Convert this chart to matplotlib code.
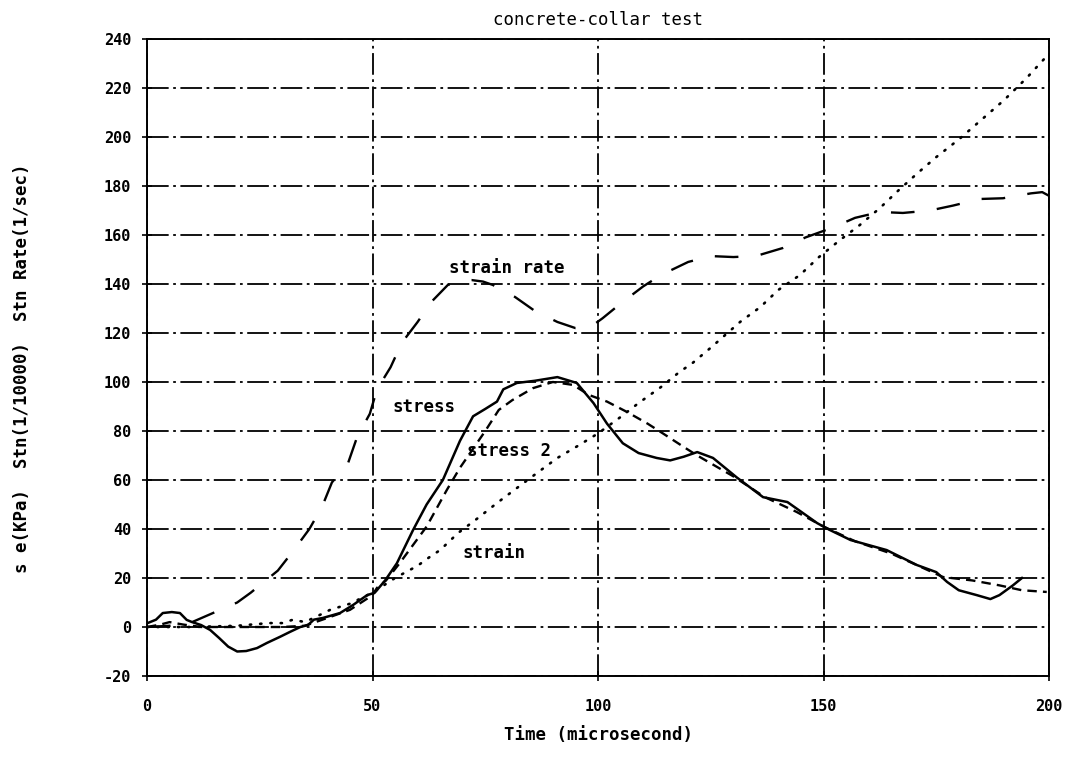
import matplotlib
matplotlib.use("Agg")
import matplotlib.pyplot as plt

# ---------------- data ----------------
stress_x = [0, 2, 3.5, 5.5, 7.3, 8.8, 10, 12, 14, 16, 18, 20, 22, 24.4, 26.6, 29.5, 31.7, 34, 35.7, 37, 39,
            42.8, 45.7, 48.8, 50.5, 52.8, 55.4, 59, 62, 65.6, 69.4, 72.3, 75, 77.6, 79, 82, 86, 91, 95.3, 99,
            102, 105.5, 109, 113, 116, 119, 122, 125.5, 130.8, 136.6, 142, 148.6, 151.4, 156, 164, 170.7, 175,
            177.4, 180, 184, 187, 189, 192, 194]
stress_y = [1.5, 3, 5.7, 6.1, 5.7, 2.9, 2, 0.8, -1.2, -4.5, -8, -10, -9.8, -8.6, -6.5, -4, -2, 0, 0.8, 3, 3.7,
            5.7, 9, 13, 14, 19, 26, 39.6, 50, 60, 76, 86, 89, 92, 97, 99.6, 100.5, 102, 99.6, 91.4,
            83, 75, 71, 69, 68, 69.5, 71.4, 69, 61, 53, 51, 42.4, 39.6, 35.5, 31.4, 25.3, 22.4,
            18.4, 15, 13, 11.4, 13, 17, 20]

stress2_x = [0, 3, 5, 8, 12, 20, 30, 35, 40, 45, 50, 51, 53, 56, 62, 66.5, 69.4, 75, 78, 81, 85.6, 90, 94.5,
             98, 102, 106.4, 111, 114.4, 119, 122, 130, 137, 144, 150, 157, 165, 171, 176.5, 183, 189, 194, 199.5]
stress2_y = [0, 1, 2, 1, 0, 0, 0, 0.5, 3.7, 7, 13, 16, 19, 26, 41, 56, 65, 80, 88.6, 92.6, 97.5, 100, 98.8,
             94.7, 92, 87.8, 83, 79, 73.5, 70, 61.5, 53, 47, 41, 35, 30, 25, 20.4, 19, 17, 15, 14.3]

strain_x = [0, 10, 20, 27, 30, 32.4, 35, 38.4, 40.6, 45, 50, 55, 60, 62.7, 65, 69, 73.4, 77.6, 82, 86.5, 91,
            95.6, 100, 105, 109, 114, 118, 121, 125, 131.5, 136, 140, 144.8, 149, 153.7, 158, 162.5, 166.5,
            170.7, 175, 180, 185, 190, 195, 200]
strain_y = [0, 0, 0.5, 1.6, 1.6, 3, 2, 5, 7, 9.5, 14, 20, 25, 28.6, 31.4, 38.4, 44.5, 50.6, 56.7, 62.9, 69,
            74, 79, 85.7, 91.4, 98, 104, 107.8, 114, 124.5, 130.6, 137.6, 143.7, 151, 158, 164, 171, 178,
            185, 191.8, 199, 207, 215, 224, 234]

rate_x = [0, 5, 10, 15, 20, 23, 29, 32.4, 36, 38.8, 41, 44.6, 46.6, 49.4, 51, 54, 56.5, 60, 63, 66.7, 70, 72,
          74.5, 76.7, 79, 81.6, 86, 91, 95, 98, 101, 105, 110, 114, 120, 125, 130, 135, 141, 146, 152, 157,
          162.5, 167.6, 173.6, 178.7, 184.7, 189.8, 196, 198.5, 200]
rate_y = [0, 0.5, 2, 6, 10, 14, 23, 31, 40, 49, 59, 67, 77.6, 87, 97, 106, 116, 124.5, 132.6, 139.6, 141.5,
          141.6, 141, 139.6, 137, 134.7, 129, 124.5, 122, 122, 126, 132, 139, 143.7, 149, 151.4, 151, 151.4,
          154.7, 159, 163, 167, 169.4, 169, 170, 172, 174.7, 175, 177, 177.5, 176]

x_ticks = [0, 50, 100, 150, 200]
y_ticks = [-20, 0, 20, 40, 60, 80, 100, 120, 140, 160, 180, 200, 220, 240]

labels = [("strain rate", 67.0, 146.5), ("stress", 54.5, 90.0), ("stress 2", 71.0, 72.0), ("strain", 70.0, 30.0)]

# ---------------- figure ----------------
fig = plt.figure(figsize=(10.69, 7.60), dpi=100)
ax = fig.add_axes([147 / 1069, 84 / 760, 902 / 1069, 637 / 760])

font = "DejaVu Sans Mono"

ax.plot(stress_x, stress_y, color="black", lw=1.8, solid_joinstyle="round")
ax.plot(stress2_x, stress2_y, color="black", lw=1.7, linestyle=(0, (4.0, 2.6)))
ax.plot(strain_x, strain_y, color="black", lw=1.9, linestyle=(0, (0.5, 3.4)), dash_capstyle="round")
ax.plot(rate_x, rate_y, color="black", lw=1.7, linestyle=(0, (10.0, 9.5)))

ax.set_xlim(0, 200)
ax.set_ylim(-20, 240)
ax.set_xticks(x_ticks)
ax.set_yticks(y_ticks)
ax.set_xticklabels([str(v) for v in x_ticks], fontfamily=font, fontweight="bold", fontsize=11)
ax.set_yticklabels([str(v) for v in y_ticks], fontfamily=font, fontweight="bold", fontsize=11)
ax.tick_params(direction="inout", length=7, width=1.2, pad=8, colors="black")
ax.tick_params(axis="x", pad=13)

ax.grid(True, color="black", lw=1.3, linestyle=(0, (12, 2.5, 1.5, 2.5)))
for s in ax.spines.values():
    s.set_linewidth(1.4)
    s.set_color("black")

for txt, x, y in labels:
    ax.text(x, y, txt, fontfamily=font, fontweight="bold", fontsize=12.5, va="center", ha="left",
            color="black")

ax.set_title("concrete-collar test", fontfamily=font, fontsize=12.5, pad=10)
ax.set_xlabel("Time (microsecond)", fontfamily=font, fontweight="bold", fontsize=12.5, labelpad=9)
fig.text(22 / 1069, 1 - 368 / 760, "s e(KPa)  Stn(1/10000)  Stn Rate(1/sec)", rotation=90,
         fontfamily=font, fontweight="bold", fontsize=12.5, ha="center", va="center")

fig.savefig("out.png", dpi=100)
